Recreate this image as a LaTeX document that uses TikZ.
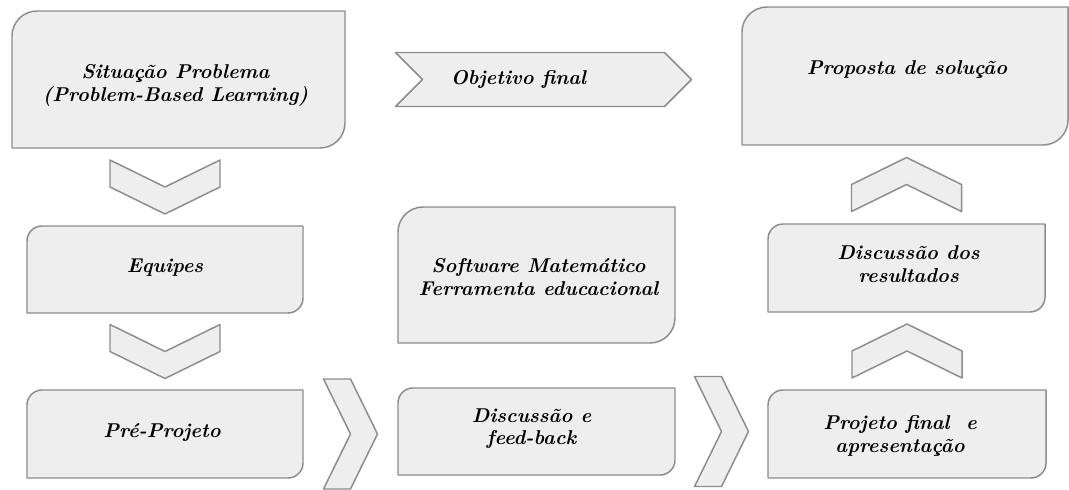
\documentclass[tikz,border=0pt]{standalone}
\usetikzlibrary{calc,fit}
\definecolor{boxfill}{HTML}{EEEEEE}
\definecolor{boxline}{HTML}{8C8C8C}
\tikzset{
  shapeline/.style={draw=boxline, fill=boxfill, line width=1.1pt, line join=round},
  area/.style={inner sep=0pt, outer sep=0pt},
  txt/.style={font=\fontsize{15}{17}\selectfont\bfseries\itshape, align=center, inner sep=0pt, text=black},
}
% outline of a box with rounded top-left and bottom-right corners
\newcommand\diagoutline[2]{%
  \draw[shapeline]
    ($(#1.north west)+(0,#2)$) .. controls ($(#1.north west)+(0,{0.448*#2})$) and ($(#1.north west)+({0.448*#2},0)$) .. ($(#1.north west)+(#2,0)$)
    -- (#1.north east)
    -- ($(#1.south east)+(0,-#2)$) .. controls ($(#1.south east)+(0,{-0.448*#2})$) and ($(#1.south east)+({-0.448*#2},0)$) .. ($(#1.south east)+(-#2,0)$)
    -- (#1.south west) -- cycle;}
\newcommand\chevdown[1]{%
  \draw[shapeline, shift={(#1)}] (-55,-27) -- (0,0) -- (55,-27) -- (55,0) -- (0,27) -- (-55,0) -- cycle;}
\newcommand\chevup[1]{%
  \draw[shapeline, shift={(#1)}] (-55,0) -- (0,-27) -- (55,0) -- (55,27) -- (0,0) -- (-55,27) -- cycle;}
\newcommand\chevright[1]{%
  \draw[shapeline, shift={(#1)}] (-27,-55) -- (0,-55) -- (27,0) -- (0,55) -- (-27,55) -- (0,0) -- cycle;}
\begin{document}
\begin{tikzpicture}[x=0.75pt,y=-0.75pt]
\useasboundingbox (0,0) rectangle (1069,489);
\fill[white] (0,0) rectangle (1069,489);

% box areas
\node[area, fit={(12,11) (345,148)}] (sit) {};
\node[area, fit={(742,7) (1068,145)}] (prop) {};
\node[area, fit={(27,226) (303,313)}] (eq) {};
\node[area, fit={(398,207) (675,343)}] (soft) {};
\node[area, fit={(768,224) (1045,312)}] (disc) {};
\node[area, fit={(27,390) (303,478)}] (pre) {};
\node[area, fit={(398,388) (675,475)}] (feed) {};
\node[area, fit={(768,390) (1046,478)}] (proj) {};

% outlines
\diagoutline{sit}{25}
\diagoutline{prop}{25}
\diagoutline{soft}{25}
\diagoutline{eq}{15}
\diagoutline{disc}{15}
\diagoutline{pre}{15}
\diagoutline{feed}{15}
\diagoutline{proj}{15}

% chevron connectors
\coordinate (c1) at ($(eq.north)!0.5!(eq.north |- sit.south)$);
\coordinate (c2) at ($(pre.north)!0.5!(pre.north |- eq.south)$);
\coordinate (c3) at ($(pre.east)!0.5!(pre.east -| feed.west)$);
\coordinate (c4) at ($(feed.east)!0.5!(feed.east -| proj.west)$);
\coordinate (c5) at ($(proj.north)!0.5!(proj.north |- disc.south)$);
\coordinate (c6) at ($(disc.north)!0.5!(disc.north |- prop.south)$);
\coordinate (c7) at ($(sit.east)!0.5!(sit.east -| prop.west)$);
\chevdown{c1}
\chevdown{c2}
\chevright{c3}
\chevright{c4}
\chevup{c5}
\chevup{c6}
\draw[shapeline, shift={(c7)}] (-148,-27) -- (121,-27) -- (148,0) -- (121,27) -- (-148,27) -- (-121,0) -- cycle;

% texts
\node[txt] (sitT) at ($(sit.center)+(-3,6)$) {Situação Problema\\(Problem-Based Learning)};
\node[txt] (objT) at ($(c7)+(-25,0)$) {Objetivo final};
\node[txt] (propT) at ($(prop.center)+(2,-6)$) {Proposta de solução};
\node[txt] (eqT) at ($(eq.center)+(0,-2)$) {Equipes};
\node[txt] (softT) at ($(soft.center)+(2,2)$) {Software Matemático\\Ferramenta educacional};
\node[txt] (discT) at ($(disc.center)+(2,-4)$) {Discussão dos\\resultados};
\node[txt] (preT) at ($(pre.center)+(-3,-1)$) {Pré-Projeto};
\node[txt] (feedT) at ($(feed.center)+(-5,-3)$) {Discussão e\\feed-back};
\node[txt] (projT) at ($(proj.center)+(-7,2)$) {Projeto final~ e\\apresentação};
\end{tikzpicture}
\end{document}
